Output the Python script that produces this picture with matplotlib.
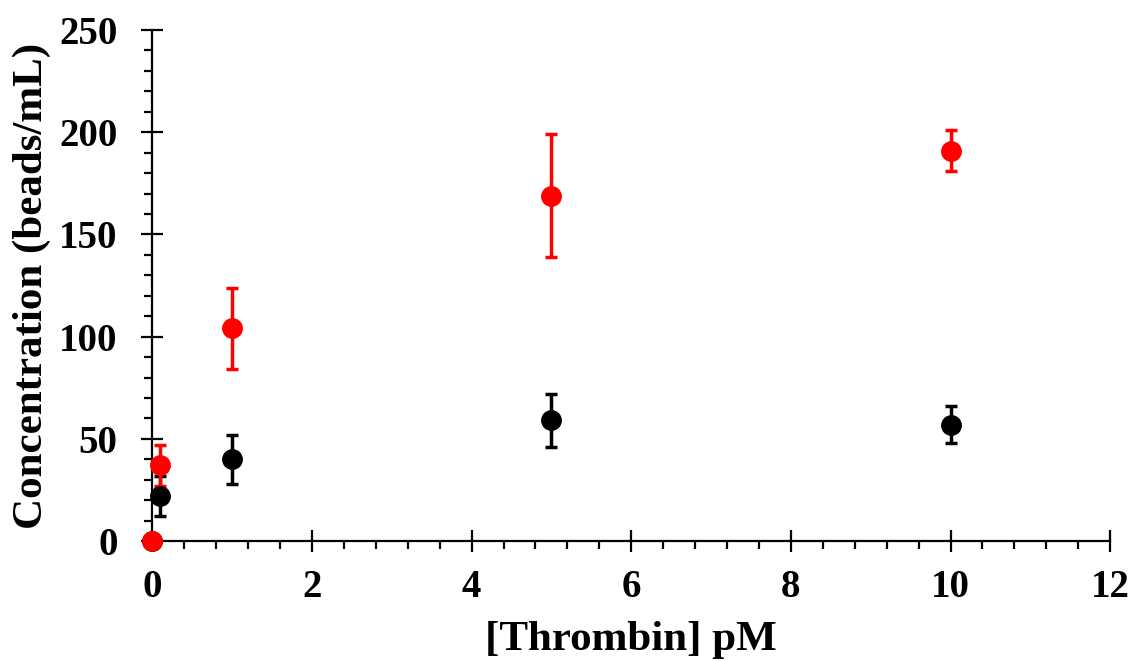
import matplotlib
matplotlib.use("Agg")
import matplotlib.pyplot as plt
from matplotlib.ticker import MultipleLocator

# Thrombin concentration (pM) and measured bead concentrations (beads/mL)
thrombin_pm = [0, 0.1, 1, 5, 10]
red_mean = [0, 37, 104, 169, 191]
red_err = [0, 10, 20, 30, 10]
black_mean = [0, 22, 40, 59, 57]
black_err = [0, 10, 12, 13, 9]

plt.rcParams["font.family"] = ["Liberation Serif", "DejaVu Serif"]
plt.rcParams["font.weight"] = "bold"

fig = plt.figure(figsize=(11.33, 6.61), dpi=100)
ax = fig.add_axes([0.1344, 0.1815, 0.8455, 0.7731])

common = dict(fmt="o", markersize=14, elinewidth=2.5, capsize=4.5,
              capthick=2.5, clip_on=False, zorder=3)
ax.errorbar(thrombin_pm, black_mean, yerr=black_err, color="black", **common)
ax.errorbar(thrombin_pm, red_mean, yerr=red_err, color="#ff0000", **common)

ax.set_xlim(0, 12)
ax.set_ylim(0, 250)
ax.xaxis.set_major_locator(MultipleLocator(2))
ax.xaxis.set_minor_locator(MultipleLocator(0.4))
ax.yaxis.set_major_locator(MultipleLocator(50))
ax.yaxis.set_minor_locator(MultipleLocator(10))

for side in ("top", "right"):
    ax.spines[side].set_visible(False)
for side in ("left", "bottom"):
    ax.spines[side].set_linewidth(1.6)

ax.tick_params(which="major", direction="inout", length=16, width=1.6,
               labelsize=28)
ax.tick_params(which="minor", direction="out", length=5.5, width=1.6)
ax.tick_params(axis="x", which="major", pad=12)
ax.tick_params(axis="y", which="major", pad=17)
for lbl in ax.get_xticklabels() + ax.get_yticklabels():
    lbl.set_fontweight("bold")

ax.set_xlabel("[Thrombin] pM", fontsize=31, fontweight="bold", labelpad=11)
ax.set_ylabel("Concentration (beads/mL)", fontsize=31, fontweight="bold", labelpad=6)

fig.savefig("out.png", dpi=100)
